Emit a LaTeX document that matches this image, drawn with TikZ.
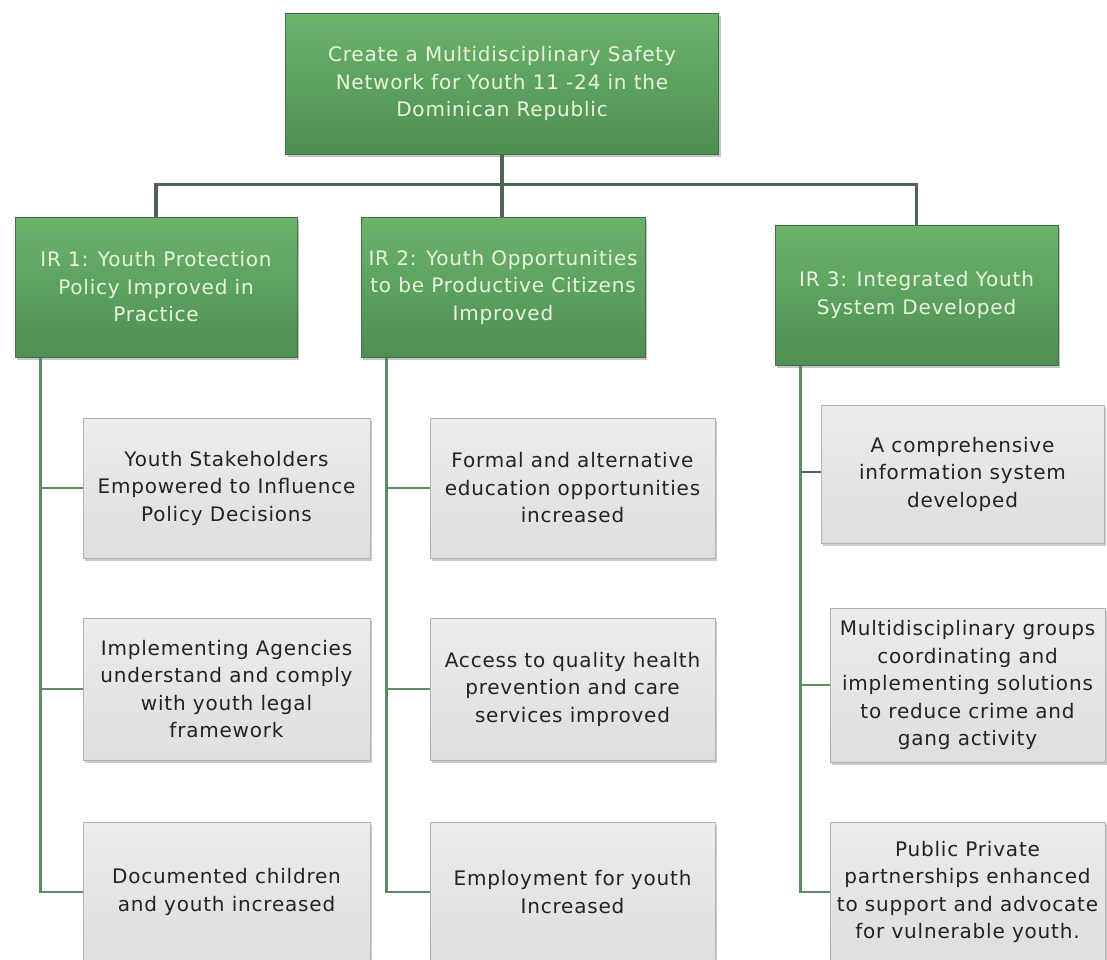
\documentclass[tikz,border=0pt]{standalone}
\usepackage{fontspec}
\setmainfont{DejaVu Sans}[LetterSpace=4]
\usetikzlibrary{shadows}
\definecolor{gtop}{RGB}{108,180,108}
\definecolor{gbot}{RGB}{78,142,82}
\definecolor{gedge}{RGB}{66,112,70}
\definecolor{gtext}{RGB}{232,244,222}
\definecolor{graytop}{RGB}{236,236,236}
\definecolor{graybot}{RGB}{222,222,222}
\definecolor{grayedge}{RGB}{178,178,178}
\definecolor{treeline}{RGB}{80,100,84}
\definecolor{childline}{RGB}{92,140,100}
\definecolor{graytext}{RGB}{35,35,35}
\begin{document}
\begin{tikzpicture}[x=1pt,y=-1pt,
  boxfont/.style={font=\fontsize{20}{27.5}\selectfont},
  greenbox/.style={rectangle, draw=gedge, line width=1pt, top color=gtop, bottom color=gbot,
    text=gtext, align=center, boxfont, inner sep=2pt,
    drop shadow={shadow xshift=2pt,shadow yshift=-3pt,opacity=0.45}},
  graybox/.style={rectangle, draw=grayedge, line width=0.8pt, top color=graytop, bottom color=graybot,
    text=graytext, align=center, boxfont, inner sep=2pt,
    drop shadow={shadow xshift=2pt,shadow yshift=-3pt,opacity=0.4}},
  tree/.style={draw=treeline, line width=3.5pt},
  childln/.style={draw=childline, line width=2.5pt},
  thinln/.style={draw=treeline, line width=1.2pt}]
\useasboundingbox (0,0) rectangle (1107,959);
\fill[white] (0,0) rectangle (1107,959);

% top goal
\node[greenbox, minimum width=433pt, minimum height=141pt] (top) at (502,83.5)
  {Create a Multidisciplinary Safety\\Network for Youth 11 -24 in the\\Dominican Republic};

% IR boxes
\node[greenbox, minimum width=282pt, minimum height=140pt] (ir1) at (156,287)
  {IR 1: Youth Protection\\Policy Improved in\\Practice};
\node[greenbox, minimum width=284pt, minimum height=140pt] (ir2) at (503,287)
  {IR 2: Youth Opportunities\\to be Productive Citizens\\Improved};
\node[greenbox, minimum width=283pt, minimum height=140pt] (ir3) at (916.5,295)
  {IR 3: Integrated Youth\\System Developed};

% IR1 children
\node[graybox, minimum width=287pt, minimum height=140pt] (g11) at (226.5,488)
  {Youth Stakeholders\\Empowered to Influence\\Policy Decisions};
\node[graybox, minimum width=287pt, minimum height=142pt] (g12) at (226.5,689)
  {Implementing Agencies\\understand and comply\\with youth legal\\framework};
\node[graybox, minimum width=287pt, minimum height=140pt] (g13) at (226.5,892)
  {Documented children\\and youth increased};

% IR2 children
\node[graybox, minimum width=285pt, minimum height=140pt] (g21) at (572.5,488)
  {Formal and alternative\\education opportunities\\increased};
\node[graybox, minimum width=285pt, minimum height=142pt] (g22) at (572.5,689)
  {Access to quality health\\prevention and care\\services improved};
\node[graybox, minimum width=285pt, minimum height=140pt] (g23) at (572.5,892)
  {Employment for youth\\Increased};

% IR3 children
\node[graybox, minimum width=283pt, minimum height=138pt] (g31) at (962.5,474)
  {A comprehensive\\information system\\developed};
\node[graybox, minimum width=275pt, minimum height=154pt] (g32) at (967.5,685)
  {Multidisciplinary groups\\coordinating and\\implementing solutions\\to reduce crime and\\gang activity};
\node[graybox, minimum width=275pt, minimum height=140pt] (g33) at (967.5,892)
  {Public Private\\partnerships enhanced\\to support and advocate\\for vulnerable youth.};

% tree connectors
\draw[tree] (top.south) -- (top.south |- ir2.north);
\draw[tree] (ir1.north) -- ++(0,-32) -| (ir3.north);

% child connectors
\coordinate (l1) at ([xshift=26pt]ir1.south west);
\coordinate (l2) at ([xshift=26pt]ir2.south west);
\coordinate (l3) at ([xshift=26pt]ir3.south west);
\draw[childln] (l1) |- (g13.west);
\draw[childln] (g11.west) -- (g11.west -| l1);
\draw[childln] (g12.west) -- (g12.west -| l1);
\draw[childln] (l2) |- (g23.west);
\draw[childln] (g21.west) -- (g21.west -| l2);
\draw[childln] (g22.west) -- (g22.west -| l2);
\draw[childln] (l3) |- (g33.west);
\draw[thinln] ([yshift=2pt]g31.west) -- ([yshift=2pt]g31.west -| l3);
\draw[childln] (g32.west) -- (g32.west -| l3);
\end{tikzpicture}
\end{document}
